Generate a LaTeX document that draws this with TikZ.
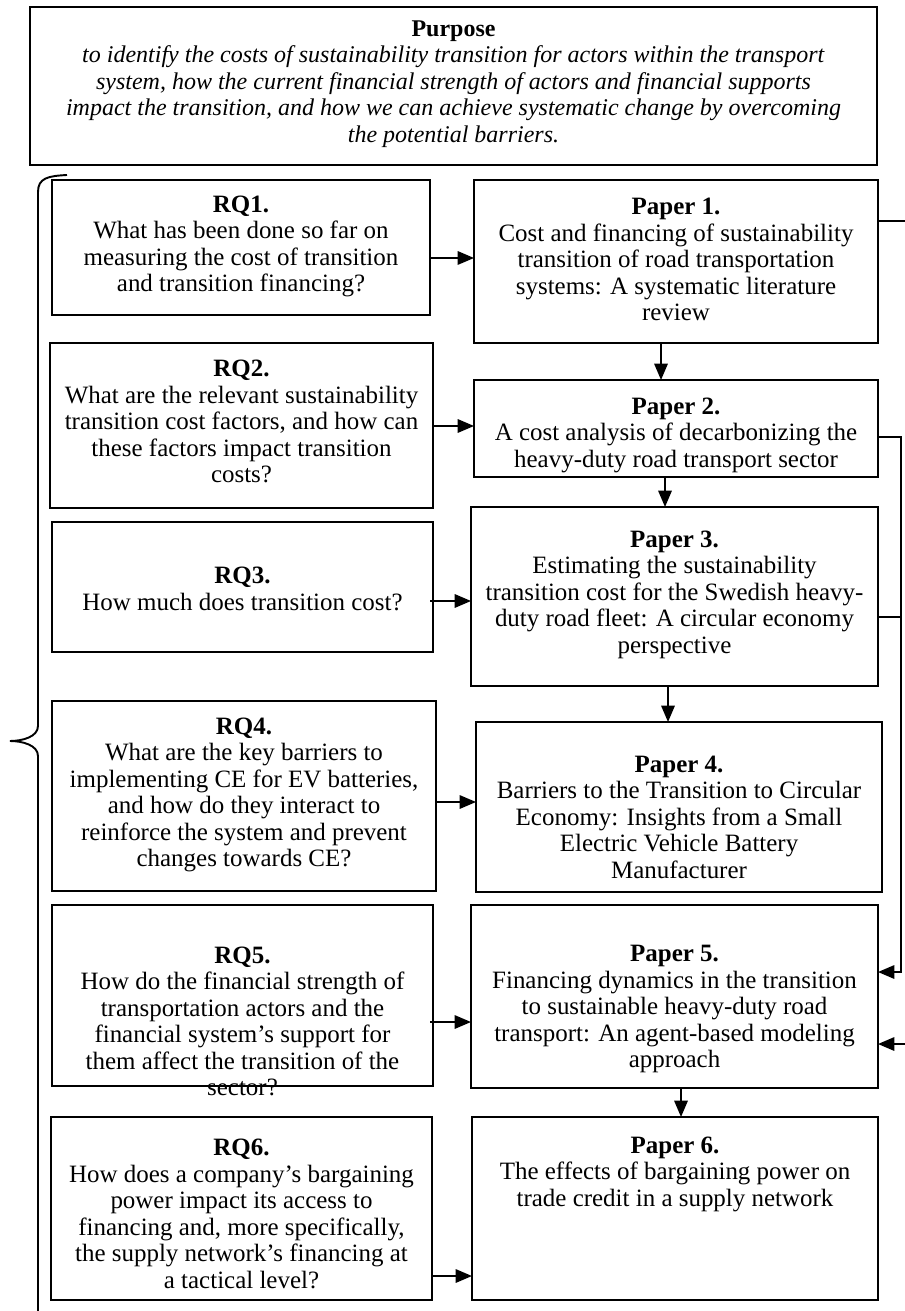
\documentclass[tikz,border=0pt]{standalone}
\usepackage{fontspec}
\setmainfont{Liberation Serif}
\usetikzlibrary{arrows.meta,calc}
\newcommand\pxu{0.52083pt}
\newcommand\mkbox[5]{\node[rect, minimum width={(#4-#2)*0.52083pt}, minimum height={(#5-#3)*0.52083pt}] (#1) at ({(#2+#4)/2},{(#3+#5)/2}) {};}
\begin{document}
\begin{tikzpicture}[x=0.52083pt,y=-0.52083pt,
  rect/.style={draw, line width=1.2pt, inner sep=0pt, outer sep=0pt},
  txt/.style={align=center, inner sep=0pt, font=\fontsize{13}{13.8}\selectfont},
  ptxt/.style={align=center, inner sep=0pt, font=\fontsize{12.5}{13.8}\selectfont},
  arr/.style={line width=0.9pt, -{Triangle[length=8.5pt,width=7pt]}},
  conn/.style={line width=0.9pt}]
\useasboundingbox (0,0) rectangle (904,1311);

% boxes
\mkbox{purp}{30}{7}{877}{165}
\mkbox{rq1}{52}{180}{430}{315}
\mkbox{p1}{474}{180}{878}{343}
\mkbox{rq2}{50}{343}{433}{508}
\mkbox{p2}{474}{380}{878}{477}
\mkbox{rq3}{52}{522}{433}{652}
\mkbox{p3}{471}{507}{878}{686}
\mkbox{rq4}{52}{701}{436}{891}
\mkbox{p4}{476}{722}{882}{892}
\mkbox{rq5}{52}{905}{433}{1086}
\mkbox{p5}{471}{905}{878}{1088}
\mkbox{rq6}{51}{1117}{432}{1300}
\mkbox{p6}{472}{1117}{878}{1300}

% texts
\node[ptxt] (purpt) at ($(purp.center)+(0,-2)$) {\textbf{Purpose}\\
\textit{to identify the costs of sustainability transition for actors within the transport}\\
\textit{system, how the current financial strength of actors and financial supports}\\
\textit{impact the transition, and how we can achieve systematic change by overcoming}\\
\textit{the potential barriers.}};

\node[txt] (rq1t) at ($(rq1.center)+(0,-1)$) {\textbf{RQ1.}\\What has been done so far on\\measuring the cost of transition\\and transition financing?};
\node[txt] (p1t) at ($(p1.center)+(0,-2)$) {\textbf{Paper 1.}\\Cost and financing of sustainability\\transition of road transportation\\systems: A systematic literature\\review};
\node[txt] (rq2t) at ($(rq2.center)+(0,-4)$) {\textbf{RQ2.}\\What are the relevant sustainability\\transition cost factors, and how can\\these factors impact transition\\costs?};
\node[txt] (p2t) at ($(p2.center)+(0,6.5)$) {\textbf{Paper 2.}\\A cost analysis of decarbonizing the\\heavy-duty road transport sector};
\node[txt] (rq3t) at ($(rq3.center)+(0,2)$) {\textbf{RQ3.}\\How much does transition cost?};
\node[txt] (p3t) at ($(p3.center)+(0,-2)$) {\textbf{Paper 3.}\\Estimating the sustainability\\transition cost for the Swedish heavy-\\duty road fleet: A circular economy\\perspective};
\node[txt] (rq4t) at ($(rq4.center)+(0,-1)$) {\textbf{RQ4.}\\What are the key barriers to\\implementing CE for EV batteries,\\and how do they interact to\\reinforce the system and prevent\\changes towards CE?};
\node[txt] (p4t) at ($(p4.center)+(0,10)$) {\textbf{Paper 4.}\\Barriers to the Transition to Circular\\Economy: Insights from a Small\\Electric Vehicle Battery\\Manufacturer};
\node[txt] (rq5t) at ($(rq5.center)+(0,26)$) {\textbf{RQ5.}\\How do the financial strength of\\transportation actors and the\\financial system's support for\\them affect the transition of the\\sector?};
\node[txt] (p5t) at ($(p5.center)+(0,12.5)$) {\textbf{Paper 5.}\\Financing dynamics in the transition\\to sustainable heavy-duty road\\transport: An agent-based modeling\\approach};
\node[txt] (rq6t) at ($(rq6.center)+(0,5.5)$) {\textbf{RQ6.}\\How does a company's bargaining\\power impact its access to\\financing and, more specifically,\\the supply network's financing at\\a tactical level?};
\node[txt] (p6t) at ($(p6.center)+(0,-34.5)$) {\textbf{Paper 6.}\\The effects of bargaining power on\\trade credit in a supply network};

% horizontal arrows RQ -> Paper
\coordinate (a1) at (0,258);
\coordinate (a2) at (0,426);
\coordinate (a3) at (0,601);
\coordinate (a4) at (0,802);
\coordinate (a5) at (0,1022);
\coordinate (a6) at (0,1276);
\draw[arr] (rq1.east |- a1) -- (p1.west |- a1);
\draw[arr] (rq2.east |- a2) -- (p2.west |- a2);
\draw[arr] ([xshift=-3*\pxu]rq3.east |- a3) -- (p3.west |- a3);
\draw[arr] (rq4.east |- a4) -- (p4.west |- a4);
\draw[arr] ([xshift=-3*\pxu]rq5.east |- a5) -- (p5.west |- a5);
\draw[arr] (rq6.east |- a6) -- (p6.west |- a6);

% vertical arrows between papers
\coordinate (v1) at (661,0);
\coordinate (v2) at (665,0);
\coordinate (v3) at (668,0);
\coordinate (v5) at (681,0);
\draw[arr] (p1.south -| v1) -- (p2.north -| v1);
\draw[arr] (p2.south -| v2) -- (p3.north -| v2);
\draw[arr] (p3.south -| v3) -- (p4.north -| v3);
\draw[arr] (p5.south -| v5) -- (p6.north -| v5);

% right-hand feedback connectors
\coordinate (r1) at (0,221);
\coordinate (r2) at (0,437);
\coordinate (r3) at (0,617);
\coordinate (r5a) at (0,972);
\coordinate (r5b) at (0,1044);
\coordinate (xa) at (901,0);
\coordinate (xb) at (908,0);
\draw[arr] (p1.east |- r1) -| (xb |- r5b) -- (p5.east |- r5b);
\draw[arr] (p2.east |- r2) -| (xa |- r5a) -- (p5.east |- r5a);
\draw[conn] (p3.east |- r3) -- (xa |- r3);

% left brace
\draw[line width=1pt] (67,175) .. controls (48,176) and (38,178) .. (38,192)
  -- (38,726) .. controls (38,737) and (22,741) .. (10,741)
  .. controls (22,741) and (38,745) .. (38,756) -- (38,1320);
\end{tikzpicture}
\end{document}
